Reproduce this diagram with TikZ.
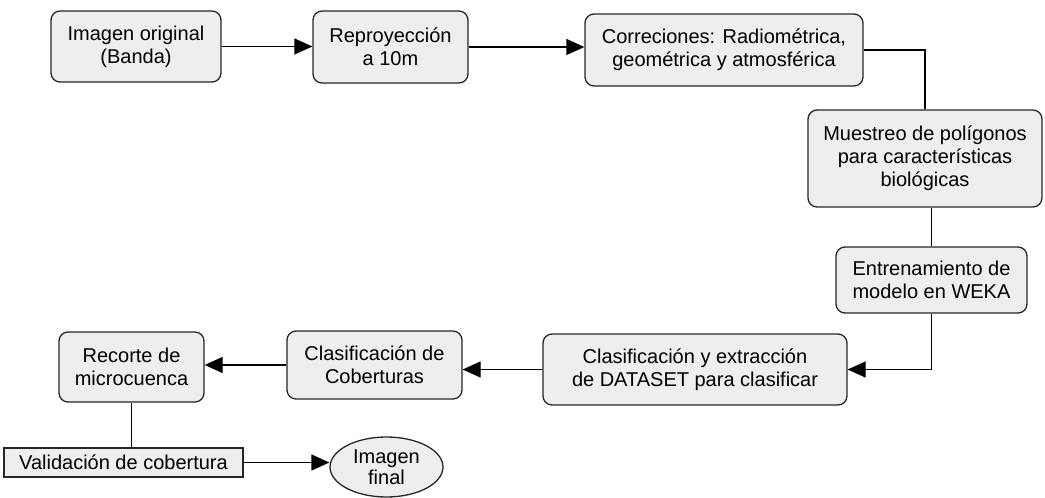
\documentclass[tikz,border=0pt]{standalone}
\usepackage{fontspec}
\setmainfont{Liberation Sans}
\usetikzlibrary{arrows.meta,shapes.geometric}
\begin{document}
\begin{tikzpicture}[x=1pt,y=-1pt,
 box/.style={draw=black!85, line width=1.3pt, rounded corners=9pt, fill=gray!13, align=center, font=\fontsize{20}{23}\selectfont, inner sep=0pt},
 arr/.style={line width=1.3pt, -{Triangle[length=18pt,width=16pt]}},
 ln/.style={line width=1.3pt}]
\useasboundingbox (0,0) rectangle (1045,498);
\node[box, minimum width=170, minimum height=71] (n1) at (136,46.5) {Imagen original\\(Banda)};
\node[box, minimum width=155, minimum height=72] (n2) at (390.5,47) {Reproyección\\a 10m};
\node[box, minimum width=278, minimum height=72] (n3) at (724,50) {Correciones: Radiométrica,\\geométrica y atmosférica};
\node[box, minimum width=234, minimum height=97] (n4) at (925,158.5) {Muestreo de polígonos\\para características\\biológicas};
\node[box, minimum width=191, minimum height=66] (n5) at (931.5,280) {Entrenamiento de\\modelo en WEKA};
\node[box, minimum width=304, minimum height=71] (n6) at (695,369.5) {Clasificación y extracción\\de DATASET para clasificar};
\node[box, minimum width=175, minimum height=68] (n7) at (374.5,365) {Clasificación de\\Coberturas};
\node[box, minimum width=145, minimum height=70] (n8) at (131.5,367) {Recorte de\\microcuenca};
\node[draw=black!85, line width=1.1pt, fill=gray!13, font=\fontsize{20}{23}\selectfont, inner sep=0pt, minimum width=239, minimum height=29] (n9) at (123.5,462.5) {Validación de cobertura};
\node[draw=black!85, line width=1.3pt, fill=gray!13, ellipse, align=center, font=\fontsize{20}{21}\selectfont, inner sep=0pt, minimum width=113, minimum height=60] (n10) at (386.5,467) {Imagen\\final};
\draw[arr] (n1.east) -- (n1.east -| n2.west);
\draw[arr] (n2.east) -- (n2.east -| n3.west);
\draw[ln] (n3.east) -| (n4.north);
\draw[ln] (n5.north |- n4.south) -- (n5.north);
\draw[arr] (n5.south) |- (n6.east);
\draw[arr] (n6.west) -- (n6.west -| n7.east);
\draw[arr] (n7.west) -- (n7.west -| n8.east);
\draw[ln] (n8.south) -- (n8.south |- n9.north);
\draw[arr] (n9.east) -- (n9.east -| n10.west);
\end{tikzpicture}
\end{document}
